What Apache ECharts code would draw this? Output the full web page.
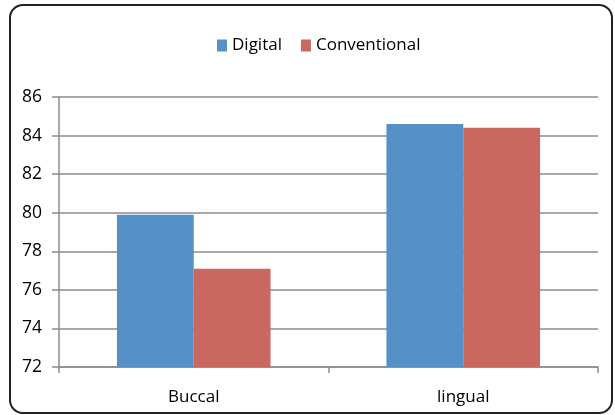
<!DOCTYPE html>
<html>
<head>
<meta charset="utf-8">
<script src="https://cdn.jsdelivr.net/npm/echarts@6/dist/echarts.min.js"></script>
<style>
html,body{margin:0;padding:0;background:#fff;}
#frame{position:absolute;left:9px;top:4px;width:600px;height:406px;border:2px solid #222;border-radius:14px;}
#chart{position:absolute;left:0;top:0;width:615px;height:415px;}
</style>
</head>
<body>
<div id="frame"></div>
<div id="chart"></div>
<script>
const categories = ['Buccal', 'lingual'];
const digital = [79.9, 84.6];
const conventional = [77.1, 84.4];
const yTicks = [72, 74, 76, 78, 80, 82, 84, 86];

const chart = echarts.init(document.getElementById('chart'), null, {renderer: 'canvas'});
const font = '"Open Sans", "Noto Sans", sans-serif';
chart.setOption({
  animation: false,
  legend: {
    data: ['Digital', 'Conventional'],
    top: 32,
    left: 212,
    itemWidth: 10,
    itemHeight: 12,
    itemGap: 19,
    textStyle: {fontFamily: font, fontSize: 17, color: '#000'},
    icon: 'rect'
  },
  grid: {left: 59, right: 17, top: 97, bottom: 48},
  xAxis: {
    type: 'category',
    data: categories,
    axisLine: {lineStyle: {color: '#8c8c8c', width: 1.5}},
    axisTick: {show: true, length: 6, lineStyle: {color: '#8c8c8c', width: 1.5}},
    axisLabel: {fontFamily: font, fontSize: 17, color: '#000', margin: 22}
  },
  yAxis: {
    type: 'value',
    min: yTicks[0],
    max: yTicks[yTicks.length - 1],
    interval: 2,
    axisLine: {show: true, lineStyle: {color: '#8c8c8c', width: 1.5}},
    axisTick: {show: true, length: 7, lineStyle: {color: '#8c8c8c', width: 1.5}},
    axisLabel: {fontFamily: font, fontSize: 17.5, color: '#000', margin: 17},
    splitLine: {lineStyle: {color: '#8c8c8c', width: 1.5}}
  },
  series: [
    {name: 'Digital', type: 'bar', data: digital, barWidth: '28.5%', barGap: '0%',
     itemStyle: {color: '#5591C7'}},
    {name: 'Conventional', type: 'bar', data: conventional, barWidth: '28.5%', barGap: '0%',
     itemStyle: {color: '#C96761'}}
  ]
});
</script>
</body>
</html>
